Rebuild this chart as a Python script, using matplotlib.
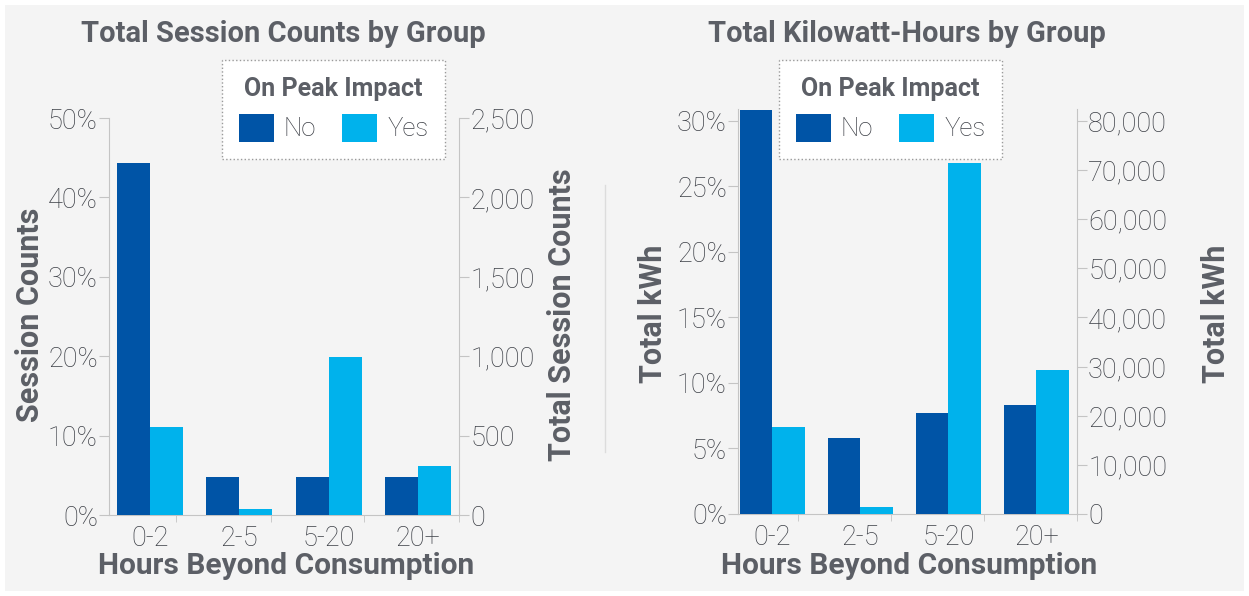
import matplotlib
matplotlib.use('Agg')
from matplotlib import pyplot as plt
from matplotlib.patches import Patch, Rectangle
from matplotlib.lines import Line2D
from matplotlib.ticker import FuncFormatter

categories = ['0-2', '2-5', '5-20', '20+']

# share of sessions (%), by on-peak impact
session_no = [44.3, 4.8, 4.8, 4.8]
session_yes = [11.1, 0.75, 19.9, 6.2]

# share of kWh (%), by on-peak impact
kwh_no = [30.8, 5.8, 7.7, 8.3]
kwh_yes = [6.6, 0.5, 26.8, 11.0]

session_pct_ticks = [0, 10, 20, 30, 40, 50]
session_count_ticks = [0, 500, 1000, 1500, 2000, 2500]
kwh_pct_ticks = [0, 5, 10, 15, 20, 25, 30]
kwh_total_ticks = [0, 10000, 20000, 30000, 40000, 50000, 60000, 70000, 80000]

dark_blue = '#0054a6'
light_blue = '#00b2ec'
text_gray = '#5c5f66'
tick_gray = '#3c3f46'
line_gray = '#c4c4c4'

plt.rcParams['font.family'] = ['Roboto', 'DejaVu Sans']

W, H = 1249, 596
fig = plt.figure(figsize=(W / 100, H / 100), dpi=100)
fig.patch.set_facecolor('white')
fig.patches.append(Rectangle((5 / W, 5 / H), 1239 / W, 586 / H,
                             transform=fig.transFigure, facecolor='#f4f4f4',
                             edgecolor='none', zorder=-10))

# thin divider between the two charts
fig.add_artist(Line2D([605 / W, 605 / W], [1 - 185 / H, 1 - 452 / H],
                      color='#dcdcdc', lw=1))


def px_text(x, y, s, size, rotation=0):
    # place a bold label by pixel position (from top-left)
    fig.text(x / W, 1 - y / H, s, fontsize=size, fontweight='bold', color=text_gray,
             ha='center', va='center', rotation=rotation)


def setup(ax, no_vals, yes_vals, ymax, yticks, xlim):
    ax.set_facecolor('none')
    x = list(range(len(categories)))
    w = 0.37
    ax.bar([i - w / 2 for i in x], no_vals, w, color=dark_blue, zorder=3)
    ax.bar([i + w / 2 for i in x], yes_vals, w, color=light_blue, zorder=3)
    ax.set_xlim(xlim)
    ax.set_ylim(0, ymax)
    ax.set_yticks(yticks)
    ax.yaxis.set_major_formatter(FuncFormatter(lambda val, pos: '%d%%' % round(val)))
    ax.set_xticks(x)
    ax.set_xticklabels(categories)
    ax.set_xticks([0.29, 1.35, 2.40, 3.46], minor=True)
    ax.tick_params(axis='x', which='major', length=0, pad=7,
                   labelsize=19.5, labelcolor=tick_gray)
    ax.tick_params(axis='x', which='minor', length=5, color=line_gray)
    ax.tick_params(axis='y', length=7, color=line_gray, pad=1,
                   labelsize=19.5, labelcolor=tick_gray)
    for lab in ax.get_xticklabels() + ax.get_yticklabels():
        lab.set_fontweight('light')
    ax.spines['top'].set_visible(False)
    ax.spines['right'].set_visible(False)
    ax.spines['left'].set_color(line_gray)
    ax.spines['bottom'].set_color(line_gray)


def setup_right(ax, rmax, rticks):
    ax.set_ylim(0, rmax)
    ax.set_yticks(rticks)
    ax.yaxis.set_major_formatter(FuncFormatter(lambda val, pos: '{:,.0f}'.format(val)))
    ax.tick_params(axis='y', length=7, color=line_gray, pad=1,
                   labelsize=19.5, labelcolor=tick_gray)
    for lab in ax.get_yticklabels():
        lab.set_fontweight('light')
    ax.spines['top'].set_visible(False)
    ax.spines['left'].set_visible(False)
    ax.spines['bottom'].set_visible(False)
    ax.spines['right'].set_color(line_gray)


def add_legend(ax, x, y):
    handles = [Patch(facecolor=dark_blue, label='No'),
               Patch(facecolor=light_blue, label='Yes')]
    leg = ax.legend(handles=handles, ncol=2, title='On Peak Impact',
                    loc='upper left', bbox_to_anchor=(x / W, 1 - y / H),
                    bbox_transform=fig.transFigure, fontsize=18.5,
                    title_fontproperties={'weight': 'bold', 'size': 18},
                    handlelength=1.36, handleheight=1.32, handletextpad=0.4,
                    columnspacing=1.0, borderpad=0.65, borderaxespad=0,
                    fancybox=False, framealpha=1, facecolor='white',
                    edgecolor='#9a9a9a')
    leg.get_frame().set_linestyle(':')
    leg.get_frame().set_linewidth(1)
    leg.get_title().set_color(text_gray)
    for t in leg.get_texts():
        t.set_color(tick_gray)
        t.set_fontweight('light')
    return leg


# left chart: session counts (50% of sessions = 2,500)
ax1 = fig.add_axes([109 / W, 81 / H, 350 / W, 397 / H])
setup(ax1, session_no, session_yes, 50, session_pct_ticks, (-0.46, 3.46))
ax1r = ax1.twinx()
setup_right(ax1r, 2500, session_count_ticks)
add_legend(ax1r, 222, 60)

px_text(283, 34, 'Total Session Counts by Group', 21)
px_text(286, 566, 'Hours Beyond Consumption', 21.5)
px_text(30, 315, 'Session Counts', 22, rotation=90)
px_text(562, 315, 'Total Session Counts', 22, rotation=90)

# right chart: kilowatt-hours (30% of kWh = 80,000)
kwh_top = 30.9
ax2 = fig.add_axes([738 / W, 82 / H, 339 / W, 405 / H])
setup(ax2, kwh_no, kwh_yes, kwh_top, kwh_pct_ticks, (-0.39, 3.39))
ax2r = ax2.twinx()
setup_right(ax2r, 80000 * kwh_top / 30, kwh_total_ticks)
add_legend(ax2r, 779, 60)

px_text(907, 34, 'Total Kilowatt-Hours by Group', 21)
px_text(909, 566, 'Hours Beyond Consumption', 21.5)
px_text(653, 314, 'Total kWh', 22, rotation=90)
px_text(1216, 314, 'Total kWh', 22, rotation=90)

fig.savefig('out.png', dpi=100, facecolor=fig.get_facecolor())
